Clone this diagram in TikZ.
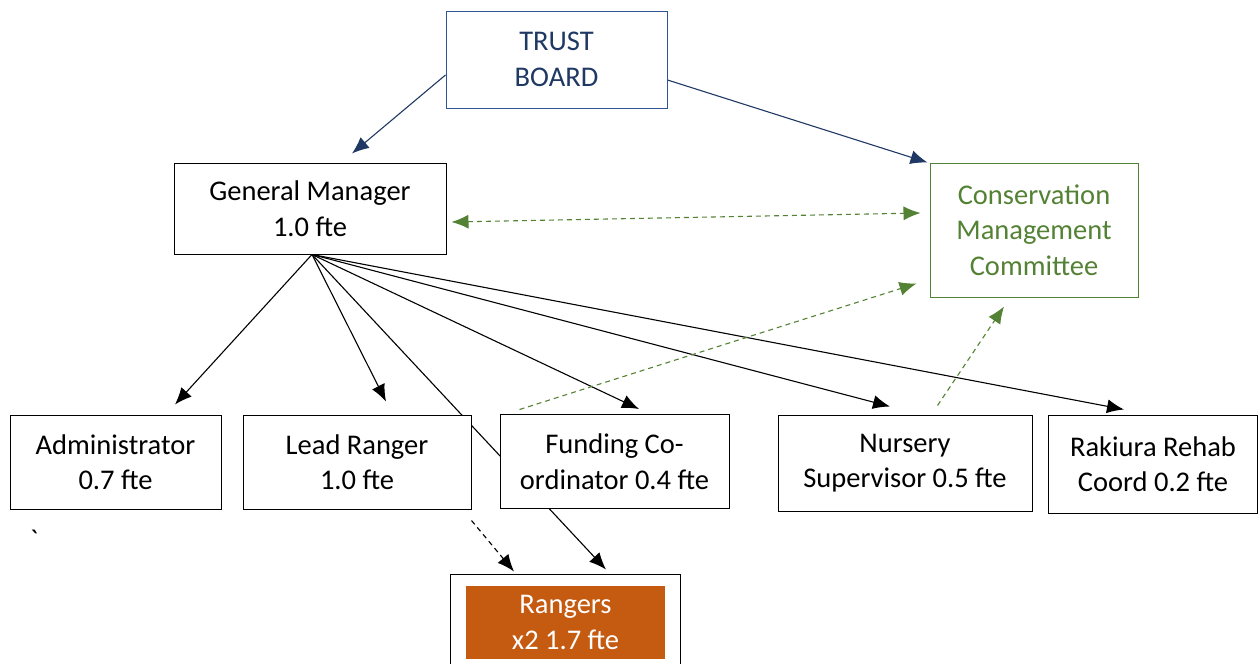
\documentclass[tikz,border=0pt]{standalone}
\usepackage{fontspec}
\setmainfont{Carlito}
\usetikzlibrary{arrows.meta,calc}
\definecolor{navy}{HTML}{1F3864}
\definecolor{bordblue}{HTML}{2F5597}
\definecolor{cgreen}{HTML}{548235}
\definecolor{rorange}{HTML}{C55A11}
\pgfdeclarelayer{bg}
\pgfsetlayers{bg,main}
\begin{document}
\begin{tikzpicture}[x=1pt,y=-1pt,
  box/.style={draw=black,line width=1pt,fill=white,align=center,inner sep=0pt,
    font=\fontsize{28.5}{35.5}\selectfont},
  tip/.style={-{Latex[length=17pt,width=14pt]}},
  conn/.style={line width=1.1pt,tip},
  navyconn/.style={line width=1.1pt,draw=navy,-{Latex[length=17pt,width=14pt,color=navy]}},
  greendash/.style={line width=1.1pt,draw=cgreen,dash pattern=on 5pt off 4pt,
    -{Latex[length=17pt,width=14pt,color=cgreen]}},
  greendashboth/.style={line width=1.1pt,draw=cgreen,dash pattern=on 5pt off 4pt,
    {Latex[length=17pt,width=14pt,color=cgreen]}-{Latex[length=17pt,width=14pt,color=cgreen]}},
  blackdash/.style={line width=1.1pt,dash pattern=on 5pt off 4pt,tip}]
\useasboundingbox (0,0) rectangle (1259,664);

\node[box,draw=bordblue,text=navy,minimum width=221pt,minimum height=97pt] (trust) at (556.5,59.5) {TRUST\\BOARD};
\node[box,minimum width=272pt,minimum height=91pt] (gm) at (310,208.5) {General Manager\\1.0 fte};
\node[box,draw=cgreen,text=cgreen,minimum width=208pt,minimum height=134pt] (cmc) at (1034,230) {Conservation\\Management\\Committee};
\node[box,minimum width=211pt,minimum height=94pt] (adm) at (115.5,462) {Administrator\\0.7 fte};
\node[box,minimum width=228pt,minimum height=94pt] (lr) at (357,462) {Lead Ranger\\1.0 fte};
\node[box,minimum width=229pt,minimum height=94pt] (fund) at (614.5,461.5) {Funding Co-\\ordinator 0.4 fte};
\node[box,minimum width=254pt,minimum height=96pt] (nurs) at (905,463) {Nursery\\Supervisor 0.5 fte};
\node[box,minimum width=209pt,minimum height=98pt] (rak) at (1153,464) {Rakiura Rehab\\Coord 0.2 fte};
\node[box,minimum width=230pt,minimum height=96pt] (rang) at (565,622) {};
\node[box,draw=none,fill=rorange,text=white,minimum width=199pt,minimum height=73pt] (rangin) at (565.5,622.5) {Rangers\\x2 1.7 fte};
\node[font=\fontsize{28.5}{35.5}\selectfont,inner sep=0pt] (tick) at (34,540) {\textasciigrave};

\coordinate (fan) at ($(gm.south)+(2,0)$);
\begin{pgfonlayer}{bg}
  \draw[navyconn] ($(trust.west)+(0,15.5)$) -- ($(gm.north)+(42,-9)$);
  \draw[navyconn] ($(trust.east)+(0,20.5)$) -- ($(cmc.north west)+(-2,0)$);
  \draw[greendashboth] ($(gm.east)+(5,13.5)$) -- ($(cmc.west)+(-9,-17)$);
  \draw[conn] (fan) -- ($(adm.north)+(59.5,-10)$);
  \draw[conn] (fan) -- ($(lr.north)+(29,-13)$);
  \draw[conn] (fan) -- ($(fund.north)+(24.5,-5)$);
  \draw[conn] (fan) -- ($(nurs.north)+(-15,-8)$);
  \draw[conn] (fan) -- ($(rak.north)+(-29,-5)$);
  \draw[conn] (fan) -- ($(rang.north)+(41,-4)$);
  \draw[blackdash] ($(lr.south east)+(0,11)$) -- ($(rang.north)+(-51,-2)$);
  \draw[greendash] ($(fund.north west)+(20,-4.5)$) -- ($(cmc.south west)+(-13,-14)$);
  \draw[greendash] ($(nurs.north east)+(-95,-9)$) -- ($(cmc.south)+(-30,9)$);
\end{pgfonlayer}
\end{tikzpicture}
\end{document}
